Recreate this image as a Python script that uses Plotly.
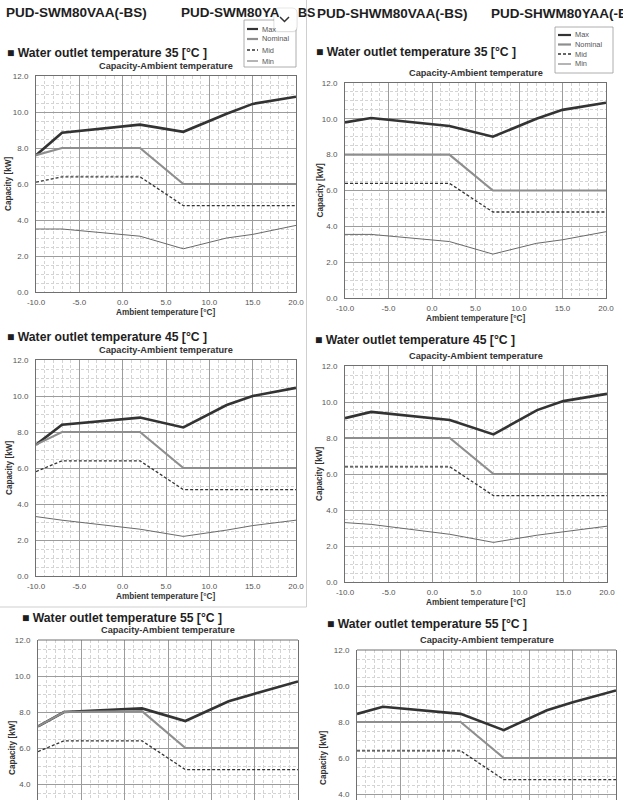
import plotly.graph_objects as go

W, H = 623, 800

# ---------------- data ----------------
x_temp = [-10, -7, 2, 7, 12, 15, 20]

swm_35_max = [7.6, 8.85, 9.3, 8.9, 9.9, 10.45, 10.85]
swm_35_nominal = [7.6, 8.0, 8.0, 6.0, 6.0, 6.0, 6.0]
swm_35_mid = [6.1, 6.4, 6.4, 4.8, 4.8, 4.8, 4.8]
swm_35_min = [3.5, 3.5, 3.1, 2.4, 3.0, 3.2, 3.7]

shwm_35_max = [9.8, 10.05, 9.6, 9.0, 10.0, 10.5, 10.9]
shwm_35_nominal = [8.0, 8.0, 8.0, 6.0, 6.0, 6.0, 6.0]
shwm_35_mid = [6.4, 6.4, 6.4, 4.8, 4.8, 4.8, 4.8]
shwm_35_min = [3.55, 3.55, 3.15, 2.45, 3.05, 3.25, 3.7]

swm_45_max = [7.3, 8.4, 8.8, 8.25, 9.5, 10.0, 10.45]
swm_45_nominal = [7.3, 8.0, 8.0, 6.0, 6.0, 6.0, 6.0]
swm_45_mid = [5.8, 6.4, 6.4, 4.8, 4.8, 4.8, 4.8]
swm_45_min = [3.3, 3.1, 2.6, 2.2, 2.55, 2.8, 3.1]

shwm_45_max = [9.1, 9.45, 9.0, 8.2, 9.55, 10.05, 10.45]
shwm_45_nominal = [8.0, 8.0, 8.0, 6.0, 6.0, 6.0, 6.0]
shwm_45_mid = [6.4, 6.4, 6.4, 4.8, 4.8, 4.8, 4.8]
shwm_45_min = [3.3, 3.2, 2.65, 2.2, 2.6, 2.8, 3.1]

swm_55_max = [7.2, 8.0, 8.2, 7.5, 8.6, 9.0, 9.7]
swm_55_nominal = [7.2, 8.0, 8.05, 6.0, 6.0, 6.0, 6.0]
swm_55_mid = [5.8, 6.4, 6.4, 4.8, 4.8, 4.8, 4.8]

shwm_55_max = [8.45, 8.85, 8.45, 7.55, 8.65, 9.1, 9.75]
shwm_55_nominal = [8.0, 8.0, 8.0, 6.0, 6.0, 6.0, 6.0]
shwm_55_mid = [6.4, 6.4, 6.4, 4.8, 4.8, 4.8, 4.8]

x_ticks = [-10, -5, 0, 5, 10, 15, 20]
y_ticks = [0, 2, 4, 6, 8, 10, 12]
series_names = ["Max", "Nominal", "Mid", "Min"]
water_temps = [35, 45, 55]
model_titles = ["PUD-SWM80VAA(-BS)", "PUD-SHWM80VAA(-BS)", "PUD-SHWM80YAA(-BS)"]
chart_title = "Capacity-Ambient temperature"
x_title = "Ambient temperature [°C]"
y_title = "Capacity [kW]"

panels_series = [
    [swm_35_max, swm_35_nominal, swm_35_mid, swm_35_min],
    [shwm_35_max, shwm_35_nominal, shwm_35_mid, shwm_35_min],
    [swm_45_max, swm_45_nominal, swm_45_mid, swm_45_min],
    [shwm_45_max, shwm_45_nominal, shwm_45_mid, shwm_45_min],
    [swm_55_max, swm_55_nominal, swm_55_mid],
    [shwm_55_max, shwm_55_nominal, shwm_55_mid],
]
panel_temps = [35, 35, 45, 45, 55, 55]

# ---------------- styles / geometry ----------------
FONT = "Liberation Sans, Arial, sans-serif"
styles = {
    "Max": dict(color="#333333", width=2.6),
    "Nominal": dict(color="#8e8e8e", width=2.2),
    "Mid": dict(color="#333333", width=1.3, dash="3px,2px"),
    "Min": dict(color="#6a6a6a", width=1.0),
}
# pixel geometry: x left, x right, y of 12 kW, y of 0 kW
geo = [
    (36, 296, 76, 292),
    (345, 606, 83, 298),
    (36, 296, 360, 576),
    (345, 607, 366, 582),
    (38, 298, 640, 856),
    (357, 616, 650, 866),
]
header_pos = [(5, 53), (314, 52), (5, 337), (313, 340), (20, 618), (325, 624)]
ytitle_x = [8, 320, 9, 319, 12, 323]


def px(x):
    return x / W


def py(y):
    return 1 - y / H


fig = go.Figure()
layout = dict(
    template="none",
    width=W, height=H, margin=dict(l=0, r=0, t=0, b=0, pad=0),
    paper_bgcolor="white", plot_bgcolor="white", showlegend=False,
    font=dict(family=FONT),
)
annotations = []
shapes = []


def ann(text, x, y, size, bold=False, color="#222222", xanchor="left",
        yanchor="middle", angle=0):
    annotations.append(dict(
        text=f"<b>{text}</b>" if bold else text, x=px(x), y=py(y),
        xref="paper", yref="paper", showarrow=False, textangle=angle,
        font=dict(family=FONT, size=size, color=color),
        xanchor=xanchor, yanchor=yanchor))


for i, (series, (x0, x1, ytop, ybot)) in enumerate(zip(panels_series, geo)):
    k = i + 1
    xa, ya = f"x{k}", f"y{k}"
    for name, vals in zip(series_names, series):
        fig.add_trace(go.Scatter(x=x_temp, y=vals, mode="lines", name=name,
                                 line=styles[name], xaxis=xa, yaxis=ya,
                                 hoverinfo="skip"))
    cut = ybot > H
    ppk = (ybot - ytop) / 12.0
    ymin = 12 - (H - ytop) / ppk if cut else 0
    dom_y = [py(min(ybot, H)), py(ytop)]
    layout[f"xaxis{k}"] = dict(
        domain=[px(x0), px(x1)], anchor=ya, range=[-10, 20],
        automargin=False,
        tickmode="array", tickvals=x_ticks,
        ticktext=[f"{v:.1f}" for v in x_ticks],
        showticklabels=not cut, ticks="", ticklabelstandoff=2,
        tickfont=dict(family=FONT, size=8, color="#555555"),
        showgrid=True, gridcolor="#9c9c9c", gridwidth=0.8,
        minor=dict(tickmode="linear", tick0=0, dtick=1, showgrid=True,
                   gridcolor="#d4d4d4", griddash="3px,2px", gridwidth=0.7),
        showline=not cut, mirror=True, linecolor="#707070", linewidth=1,
        zeroline=False, fixedrange=True,
    )
    layout[f"yaxis{k}"] = dict(
        domain=dom_y, anchor=xa, range=[ymin, 12],
        automargin=False,
        tickmode="array", tickvals=y_ticks,
        ticktext=[f"{v:.1f}" for v in y_ticks],
        ticks="", ticklabelstandoff=5,
        tickfont=dict(family=FONT, size=8, color="#555555"),
        showgrid=True, gridcolor="#9c9c9c", gridwidth=0.8,
        minor=dict(tickmode="linear", tick0=0, dtick=0.5, showgrid=True,
                   gridcolor="#d4d4d4", griddash="3px,2px", gridwidth=0.7),
        showline=True, mirror=True, linecolor="#707070", linewidth=1,
        zeroline=False, fixedrange=True,
    )
    if cut:
        shapes.append(dict(type="line", xref=f"{xa} domain", yref=f"{ya} domain",
                           x0=0, x1=1, y0=1, y1=1,
                           line=dict(color="#707070", width=1)))
    # texts
    hx, hy = header_pos[i]
    ann(f"■ Water outlet temperature {panel_temps[i]} [°C ]", hx, hy, 12.2,
        bold=True, color="#1e1e1e")
    cx = (x0 + x1) / 2
    ann(chart_title, cx, ytop - 10, 9.2, bold=True, color="#333333",
        xanchor="center")
    ann(y_title, ytitle_x[i], (ytop + ybot) / 2, 8.2, bold=True,
        color="#333333", xanchor="center", angle=-90)
    if not cut:
        ann(x_title, cx, ybot + 20, 8.2, bold=True, color="#333333",
            xanchor="center")

# model headers
ann(model_titles[0], 4, 13, 13.5, bold=True, color="#1e1e1e")
ann("PUD-SWM80YA", 179, 13, 13.5, bold=True, color="#1e1e1e")
ann("BS", 296, 13, 12.5, bold=True, color="#1e1e1e")
ann(model_titles[1], 315, 14, 13.5, bold=True, color="#1e1e1e")
ann(model_titles[2], 489, 14, 13.5, bold=True, color="#1e1e1e")

# left column frame
shapes.append(dict(type="line", xref="paper", yref="paper", x0=px(306.5),
                   x1=px(306.5), y0=py(0), y1=py(607),
                   line=dict(color="#cfcfcf", width=1)))
shapes.append(dict(type="line", xref="paper", yref="paper", x0=px(0),
                   x1=px(306.5), y0=py(607), y1=py(607),
                   line=dict(color="#cfcfcf", width=1)))


def legend(bx0, bx1, by0, by1, rows, sx0, sx1, tx):
    shapes.append(dict(type="rect", xref="paper", yref="paper",
                       x0=px(bx0), x1=px(bx1), y0=py(by1), y1=py(by0),
                       line=dict(color="#9a9a9a", width=0.8),
                       fillcolor="white"))
    for name, ry in zip(series_names, rows):
        st = dict(styles[name])
        st["width"] = min(st["width"], 2.2)
        shapes.append(dict(type="line", xref="paper", yref="paper",
                           x0=px(sx0), x1=px(sx1), y0=py(ry), y1=py(ry),
                           line=st))
        ann(name, tx, ry, 7.4, color="#555555")


legend(244, 296, 20, 67, [29, 39, 50, 61], 247, 258, 260)
legend(555, 613, 27, 73, [35, 44.5, 54, 64], 558, 571, 573)

# browser chevron button overlay


def rrect(x0, y0, x1, y1, r):
    p = [f"M {px(x0 + r)},{py(y0)}", f"L {px(x1 - r)},{py(y0)}",
         f"Q {px(x1)},{py(y0)} {px(x1)},{py(y0 + r)}",
         f"L {px(x1)},{py(y1 - r)}",
         f"Q {px(x1)},{py(y1)} {px(x1 - r)},{py(y1)}",
         f"L {px(x0 + r)},{py(y1)}",
         f"Q {px(x0)},{py(y1)} {px(x0)},{py(y1 - r)}",
         f"L {px(x0)},{py(y0 + r)}",
         f"Q {px(x0)},{py(y0)} {px(x0 + r)},{py(y0)} Z"]
    return " ".join(p)


shapes.append(dict(type="path", xref="paper", yref="paper",
                   path=rrect(273.5, 8.5, 297.5, 32.5, 5),
                   fillcolor="rgba(0,0,0,0.06)", line=dict(width=0)))
shapes.append(dict(type="path", xref="paper", yref="paper",
                   path=rrect(274, 8, 297, 31.5, 5),
                   fillcolor="rgba(255,255,255,0.97)",
                   line=dict(color="rgba(0,0,0,0.12)", width=0.8)))
shapes.append(dict(type="path", xref="paper", yref="paper",
                   path=f"M {px(280)},{py(17)} L {px(284.5)},{py(21.5)} L {px(289)},{py(17)}",
                   line=dict(color="#333333", width=1.5)))

layout["annotations"] = annotations
layout["shapes"] = shapes
fig.update_layout(**layout)
fig.write_html(
    "out.html",
    config={"displayModeBar": False},
    post_script="document.body.style.margin='0';document.body.style.overflow='hidden';",
)
